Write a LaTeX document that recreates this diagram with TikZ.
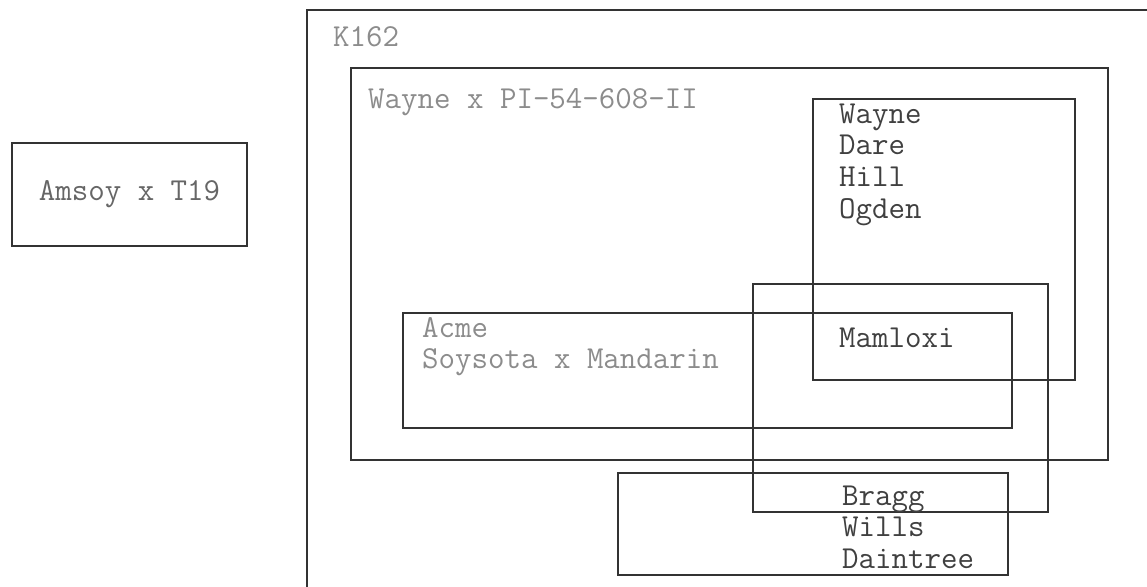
\documentclass[tikz,border=0pt]{standalone}
\usepackage{fontspec}
\usetikzlibrary{positioning}

\begin{document}
\begin{tikzpicture}[x=1pt,y=-1pt,
 box/.style={draw=black!80,line width=2pt},
 txt/.style={anchor=base west,inner sep=0pt,font=\fontsize{32}{38}\ttfamily,text=black!75},
 pale/.style={txt,text=black!45}]
 \useasboundingbox (0,0) rectangle (1147,586);
 \clip (0,0) rectangle (1147,586);

 % K162 runs off the page
 \draw[box] (307,600) -- (307,10) -- (1160,10);
 \node[pale] (k162) at (333,46) {K162};

 \draw[box] (351,68) rectangle (1108,460);
 \node[pale] (wpi) at (368,108) {Wayne x PI-54-608-II};

 \draw[box] (813,99) rectangle (1075,380);
 \foreach \name [count=\i from 0] in {Wayne,Dare,Hill,Ogden}
   \node[txt] (w\i) at (839,{123+31.7*\i}) {\name};

 \draw[box] (753,284) rectangle (1048,512);
 \draw[box] (403,313) rectangle (1012,428);
 \node[pale] (acme) at (422,337) {Acme};
 \node[pale] (soy) at (422,368) {Soysota x Mandarin};
 \node[txt] (mam) at (839,347) {Mamloxi};

 \draw[box] (618,473) rectangle (1008,575);
 \foreach \name [count=\i from 0] in {Bragg,Wills,Daintree}
   \node[txt] (b\i) at (842,{505+31.5*\i}) {\name};

 \node[box,minimum width=235,minimum height=103,font=\fontsize{32}{38}\ttfamily,
   text=black!60] (amsoy) at (129.5,194.5) {Amsoy x T19};
\end{tikzpicture}
\end{document}
